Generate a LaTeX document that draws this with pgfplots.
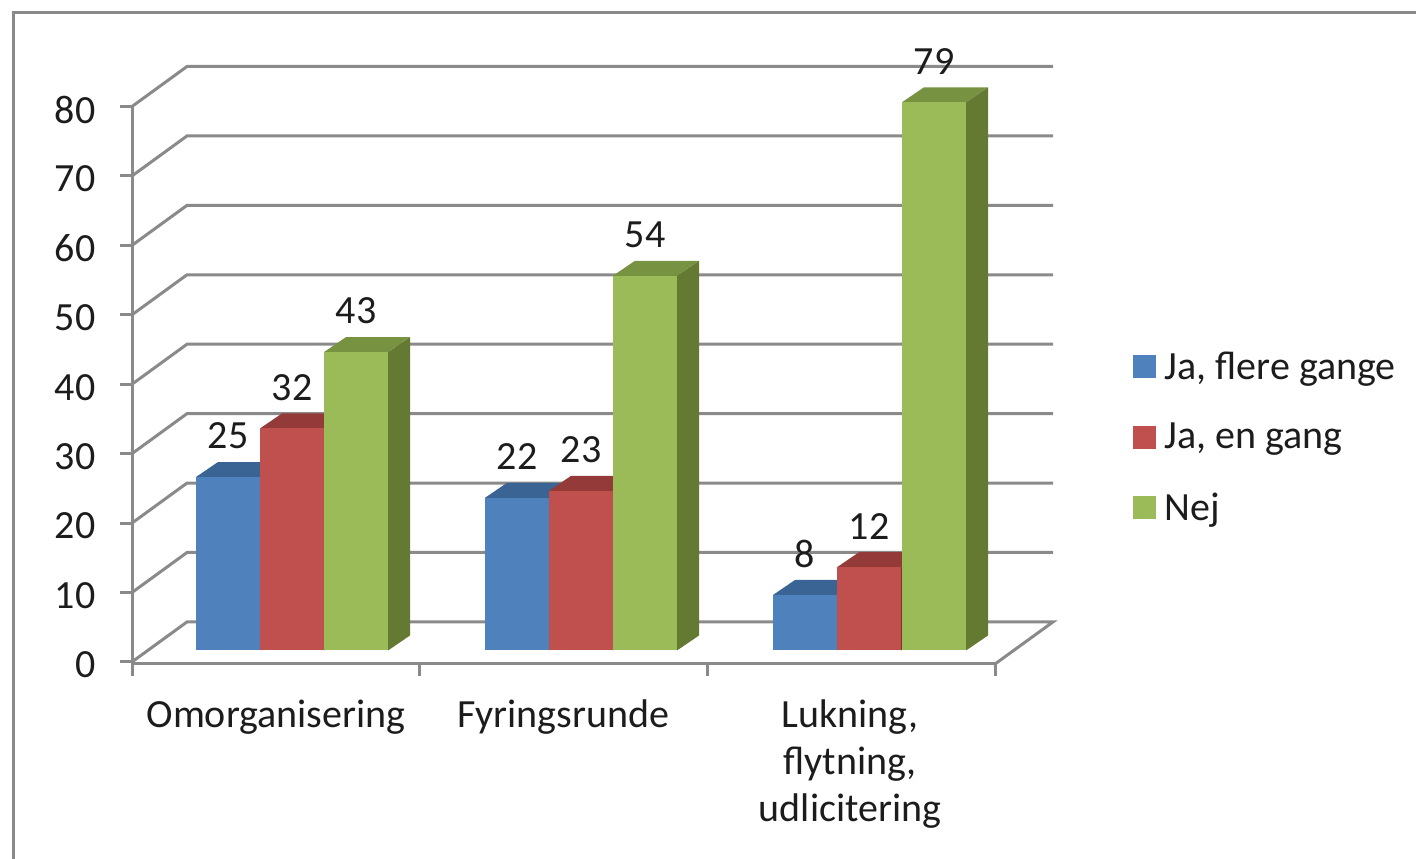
\documentclass[border=0pt]{standalone}
\usepackage{fontspec}
\setmainfont{Carlito}
\usepackage{pgfplots}
\pgfplotsset{compat=1.18}
\definecolor{barblue}{HTML}{4F81BD}
\definecolor{topblue}{HTML}{3A6494}
\definecolor{sideblue}{HTML}{33577F}
\definecolor{barred}{HTML}{C0504D}
\definecolor{topred}{HTML}{943A38}
\definecolor{sidered}{HTML}{7F3230}
\definecolor{bargreen}{HTML}{9BBB59}
\definecolor{topgreen}{HTML}{779341}
\definecolor{sidegreen}{HTML}{647A33}
\definecolor{rulegray}{HTML}{8A8A8A}
\definecolor{inktext}{HTML}{1C1C1C}
\newcommand{\chartfont}{\fontsize{40}{47}\selectfont}
% One bar: left edge, value, then the front, top and side fills.
\newcommand{\threedbar}[5]{%
  \pgfmathsetmacro{\xr}{#1+64}%
  \pgfmathsetmacro{\xa}{#1+22}%
  \pgfmathsetmacro{\xb}{#1+86}%
  \pgfmathsetmacro{\yb}{#2+2.16}%
  \addplot[fill=#5,draw=none,forget plot] coordinates {(\xr,0)(\xb,2.16)(\xb,\yb)(\xr,#2)};
  \addplot[fill=#4,draw=none,forget plot] coordinates {(#1,#2)(\xr,#2)(\xb,\yb)(\xa,\yb)};
  \addplot[fill=#3,draw=none,forget plot] coordinates {(#1,0)(\xr,0)(\xr,#2)(#1,#2)};
}
\pgfplotsset{
  chartbox/.style={
    at={(132pt,195pt)},anchor=south west,
    scale only axis,width=863pt,height=557.5pt,
    xmin=132,xmax=995,clip=false,
    /pgf/number format/assume math mode=true,
  },
  wall/.style={rulegray,line width=3pt,line join=miter,mark=none,forget plot},
}
\begin{document}
\begin{tikzpicture}[x=1pt,y=1pt]
\useasboundingbox (0,0) rectangle (1416,859);
\draw[rulegray,line width=3pt] (13,-2) -- (13,846) -- (1418,846);
% Axes, walls and legend
\begin{axis}[chartbox,
  ymin=-0.3,ymax=80,
  axis x line*=bottom,axis y line*=left,
  x axis line style={-},y axis line style={-},
  axis line style={rulegray,line width=3pt},
  tick style={rulegray,line width=3pt},
  major tick length=12pt,tick align=outside,
  ytick={0,10,...,80},
  xtick={132,419.67,707.33,995},xticklabels={},
  extra x ticks={276,563,850},
  extra x tick labels={{\strut Omorganisering},{\strut Fyringsrunde},{\strut Lukning,\\\strut flytning,\\\strut udlicitering}},
  extra x tick style={major tick length=0pt,tick style={draw=none}},
  tick label style={font=\chartfont,text=inktext},
  yticklabel style={xshift=-21pt,yshift=-3pt},
  xticklabel style={align=center,yshift=-27pt},
  legend style={at={(axis cs:1133,45)},anchor=north west,draw=none,fill=none,
    font=\chartfont,text=inktext,row sep=38.5pt,inner sep=0pt,
    cells={anchor=west}},
  legend image code/.code={\fill[#1] (0pt,-11pt) rectangle (22pt,11pt);\path (29pt,0pt);},
]
\addlegendimage{barblue}
\addlegendentry{Ja, flere gange}
\addlegendimage{barred}
\addlegendentry{Ja, en gang}
\addlegendimage{bargreen}
\addlegendentry{Nej}
% Back wall rules with their slanted side-wall runs
\addplot[wall] coordinates {(132,0)(187,5.76)(1053,5.76)(995,-0.3)};
\addplot[wall] coordinates {(132,10)(187,15.76)(1053,15.76)};
\addplot[wall] coordinates {(132,20)(187,25.76)(1053,25.76)};
\addplot[wall] coordinates {(132,30)(187,35.76)(1053,35.76)};
\addplot[wall] coordinates {(132,40)(187,45.76)(1053,45.76)};
\addplot[wall] coordinates {(132,50)(187,55.76)(1053,55.76)};
\addplot[wall] coordinates {(132,60)(187,65.76)(1053,65.76)};
\addplot[wall] coordinates {(132,70)(187,75.76)(1053,75.76)};
\addplot[wall] coordinates {(132,80)(187,85.76)(1053,85.76)};
\end{axis}
% Bars, standing on the floor plane
\begin{axis}[chartbox,
  ymin=-1.945,ymax=78.39,hide axis,
]
\threedbar{196}{25}{barblue}{topblue}{sideblue}
\threedbar{260}{32}{barred}{topred}{sidered}
\threedbar{324}{43}{bargreen}{topgreen}{sidegreen}
\threedbar{485}{22}{barblue}{topblue}{sideblue}
\threedbar{549}{23}{barred}{topred}{sidered}
\threedbar{613}{54}{bargreen}{topgreen}{sidegreen}
\threedbar{773}{8}{barblue}{topblue}{sideblue}
\threedbar{837}{12}{barred}{topred}{sidered}
\threedbar{902}{79}{bargreen}{topgreen}{sidegreen}
% Value labels
\addplot[draw=none,mark=none,forget plot,point meta=y,nodes near coords,
  nodes near coords style={font=\chartfont,text=inktext,anchor=center,yshift=41pt}]
  coordinates {(228,25)(292,32)(356,43)(517,22)(581,23)(645,54)(805,8)(869,12)(934,79)};
\end{axis}
\end{tikzpicture}
\end{document}
